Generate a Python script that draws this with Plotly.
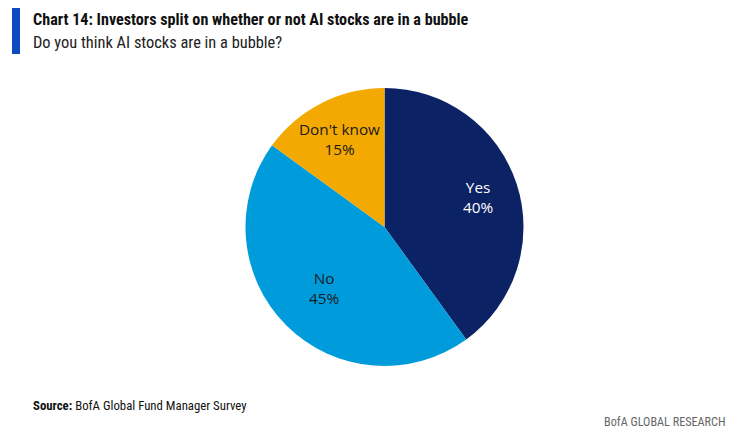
import math
import plotly.graph_objects as go

# survey answers, share of respondents (%)
labels = ["Yes", "No", "Don't know"]
values = [40, 45, 15]
colors = ["#0b2265", "#009bdb", "#f3a902"]
text_colors = ["#ffffff", "#1a1a1a", "#1a1a1a"]

# page has an 8px body margin, so work in viewport pixels and shift
OFF = 8
W, H = 740 - OFF, 439 - OFF


def px(x):
    return (x - OFF) / W


def py(y):
    return 1 - (y - OFF) / H


font_title = "Liberation Sans Narrow, Arial Narrow, Roboto Condensed, Liberation Sans, sans-serif"
font_body = "Open Sans, Noto Sans, sans-serif"

# pie geometry (viewport px)
cx, cy, R = 384.5, 227, 139
label_r = [0.71, 0.62, 0.71]

fig = go.Figure(go.Pie(
    labels=labels,
    values=values,
    sort=False,
    direction="clockwise",
    rotation=0,
    marker=dict(colors=colors, line=dict(width=0)),
    textinfo="none",
    hoverinfo="label+percent",
    showlegend=False,
    domain=dict(x=[px(cx - R), px(cx + R)], y=[py(cy + R), py(cy - R)]),
))

# slice labels placed at each slice's mid-angle
annotations = []
total = sum(values)
cum = 0
for lab, val, col, rf in zip(labels, values, text_colors, label_r):
    mid = (cum + val / 2) / total * 2 * math.pi
    cum += val
    lx = cx + rf * R * math.sin(mid)
    ly = cy - rf * R * math.cos(mid)
    annotations.append(dict(
        text=f"{lab}<br>{val}%", x=px(lx), y=py(ly), xref="paper", yref="paper",
        xanchor="center", yanchor="middle", showarrow=False,
        font=dict(size=15.3, color=col, family=font_body)))

annotations += [
    dict(text="<b>Chart 14: Investors split on whether or not AI stocks are in a bubble</b>",
         x=px(31), y=py(20), xref="paper", yref="paper",
         xanchor="left", yanchor="middle", showarrow=False,
         font=dict(size=16.15, color="#111111", family=font_title)),
    dict(text="Do you think AI stocks are in a bubble?",
         x=px(31), y=py(43), xref="paper", yref="paper",
         xanchor="left", yanchor="middle", showarrow=False,
         font=dict(size=16.4, color="#222222", family=font_title)),
    dict(text="<b>Source:</b> BofA Global Fund Manager Survey",
         x=px(31), y=py(405), xref="paper", yref="paper",
         xanchor="left", yanchor="middle", showarrow=False,
         font=dict(size=12.8, color="#111111", family=font_title)),
    dict(text="BofA GLOBAL RESEARCH",
         x=px(728), y=py(422), xref="paper", yref="paper",
         xanchor="right", yanchor="middle", showarrow=False,
         font=dict(size=12.2, color="#666666", family=font_title)),
]

fig.update_layout(
    width=W, height=H,
    margin=dict(l=0, r=0, t=0, b=0),
    paper_bgcolor="white",
    plot_bgcolor="white",
    shapes=[dict(type="rect", xref="paper", yref="paper",
                 x0=px(12), x1=px(20), y0=py(54), y1=py(8),
                 fillcolor="#0a4cc0", line=dict(width=0))],
    annotations=annotations,
)

fig.write_html("out.html")
